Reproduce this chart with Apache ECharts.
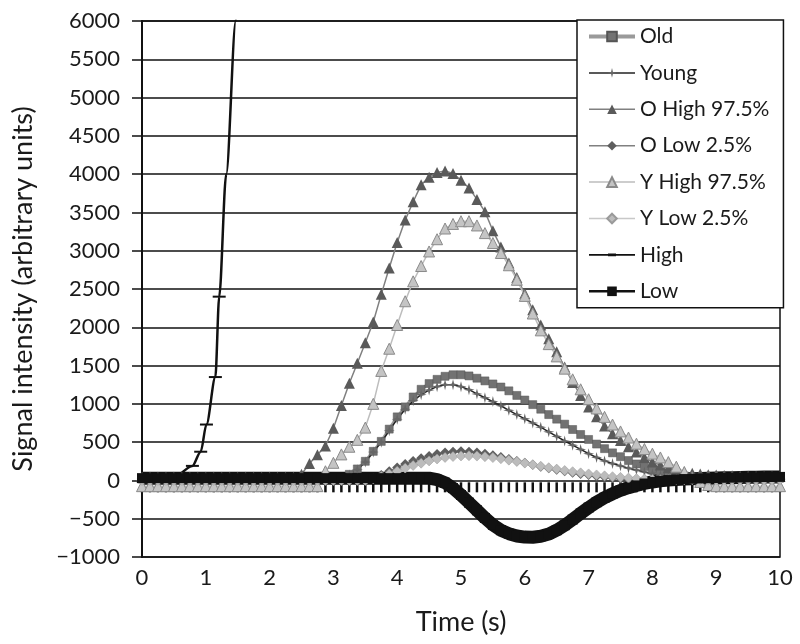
<!DOCTYPE html>
<html>
<head>
<meta charset="utf-8">
<script src="https://cdn.jsdelivr.net/npm/echarts@6/dist/echarts.min.js"></script>
<style>
  html, body { margin: 0; padding: 0; background: #fff; }
  #chart { width: 800px; height: 644px; }
</style>
</head>
<body>
<div id="chart"></div>
<script>
// sample times (s), every 0.125 s
const times = [
  0, 0.125, 0.25, 0.375, 0.5, 0.625, 0.75, 0.875,
  1, 1.125, 1.25, 1.375, 1.5, 1.625, 1.75, 1.875,
  2, 2.125, 2.25, 2.375, 2.5, 2.625, 2.75, 2.875,
  3, 3.125, 3.25, 3.375, 3.5, 3.625, 3.75, 3.875,
  4, 4.125, 4.25, 4.375, 4.5, 4.625, 4.75, 4.875,
  5, 5.125, 5.25, 5.375, 5.5, 5.625, 5.75, 5.875,
  6, 6.125, 6.25, 6.375, 6.5, 6.625, 6.75, 6.875,
  7, 7.125, 7.25, 7.375, 7.5, 7.625, 7.75, 7.875,
  8, 8.125, 8.25, 8.375, 8.5, 8.625, 8.75, 8.875,
  9, 9.125, 9.25, 9.375, 9.5, 9.625, 9.75, 9.875,
  10
];

const oldValues = [
  20, 20, 20, 20, 20, 20, 20, 20,
  20, 20, 20, 20, 20, 20, 20, 20,
  20, 20, 20, 20, 20, 20, 20, 20,
  20, 20, 80, 150, 250, 380, 510, 670,
  830, 960, 1090, 1190, 1265, 1320, 1360, 1380,
  1380, 1365, 1335, 1300, 1260, 1220, 1170, 1110,
  1050, 990, 930, 860, 800, 735, 665, 600,
  535, 475, 415, 360, 310, 260, 215, 180,
  145, 115, 90, 70, 55, 40, 35, 30,
  30, 30, 30, 30, 30, 30, 30, 30,
  30
];

const youngValues = [
  20, 20, 20, 20, 20, 20, 20, 20,
  20, 20, 20, 20, 20, 20, 20, 20,
  20, 20, 20, 20, 20, 20, 20, 20,
  20, 20, 70, 140, 240, 370, 500, 650,
  800, 930, 1040, 1120, 1180, 1225, 1250, 1250,
  1225, 1185, 1130, 1080, 1030, 975, 915, 860,
  805, 750, 695, 635, 575, 515, 460, 405,
  350, 300, 255, 220, 190, 160, 135, 110,
  85, 65, 50, 40, 35, 30, 30, 30,
  30, 30, 30, 30, 30, 30, 30, 30,
  30
];

const oHighValues = [
  40, 40, 40, 40, 40, 40, 40, 40,
  40, 40, 40, 40, 40, 40, 40, 40,
  40, 40, 40, 40, 80, 220, 335, 450,
  680, 980, 1270, 1530, 1797, 2070, 2430, 2775,
  3106, 3400, 3640, 3860, 3960, 4020, 4040, 4010,
  3920, 3820, 3670, 3510, 3260, 3050, 2840, 2650,
  2440, 2230, 2030, 1850, 1680, 1480, 1280, 1110,
  960, 830, 710, 610, 520, 440, 370, 300,
  240, 200, 165, 135, 110, 95, 85, 75,
  70, 65, 60, 55, 55, 50, 50, 50,
  50
];

const oLowValues = [
  0, 0, 0, 0, 0, 0, 0, 0,
  0, 0, 0, 0, 0, 0, 0, 0,
  0, 0, 0, 0, 0, 0, 0, 0,
  0, 0, 0, 0, 0, 30, 70, 120,
  170, 215, 255, 290, 320, 345, 365, 375,
  380, 375, 365, 350, 330, 305, 280, 255,
  230, 205, 180, 160, 140, 120, 100, 85,
  70, 55, 45, 35, 25, 20, 10, 10,
  10, 10, 10, 10, 10, 10, 10, 10,
  10, 10, 10, 10, 10, 10, 10, 10,
  10
];

const yHighValues = [
  -75, -75, -75, -75, -75, -75, -75, -75,
  -75, -75, -75, -75, -75, -75, -75, -75,
  -75, -75, -75, -75, -75, -75, -75, 120,
  230, 340, 440, 530, 690, 1000, 1430, 1720,
  2030, 2340, 2600, 2800, 2990, 3150, 3290, 3350,
  3385, 3385, 3330, 3230, 3100, 2970, 2810, 2620,
  2410, 2180, 1960, 1780, 1620, 1460, 1320, 1190,
  1060, 940, 830, 730, 640, 560, 480, 410,
  350, 300, 240, 180, 110, 40, -20, -60,
  -75, -75, -75, -75, -75, -75, -75, -75,
  -75
];

const yLowValues = [
  0, 0, 0, 0, 0, 0, 0, 0,
  0, 0, 0, 0, 0, 0, 0, 0,
  0, 0, 0, 0, 0, 0, 0, 0,
  0, 0, 0, 0, 0, 20, 50, 85,
  120, 160, 195, 225, 255, 280, 300, 312,
  320, 322, 318, 310, 298, 283, 265, 246,
  226, 206, 186, 167, 148, 130, 114, 99,
  85, 72, 60, 49, 40, 31, 24, 18,
  13, 10, 10, 10, 10, 10, 10, 10,
  10, 10, 10, 10, 10, 10, 10, 10,
  10
];

const lowValues = [
  30, 30, 30, 30, 30, 30, 30, 30,
  30, 30, 30, 30, 30, 30, 30, 30,
  30, 30, 30, 30, 30, 30, 30, 30,
  30, 30, 30, 30, 30, 30, 30, 30,
  30, 30, 30, 30, 30, 10, -30, -100,
  -190, -290, -390, -490, -580, -650, -695, -725,
  -740, -742, -730, -700, -650, -585, -510, -430,
  -355, -285, -225, -175, -130, -95, -65, -40,
  -20, -5, 5, 12, 18, 22, 26, 29,
  32, 34, 36, 38, 40, 42, 44, 45,
  46
];

// small black tick marks sitting just under zero
const baseTickValues = [
  -90, -90, -90, -90, -90, -90, -90, -90,
  -90, -90, -90, -90, -90, -90, -90, -90,
  -90, -90, -90, -90, -90, -90, -90, -90,
  -90, -90, -90, -90, -90, -90, -90, -90,
  -90, -90, -90, -90, -90, -90, -90, -90,
  -90, -90, -90, -90, -90, -90, -90, -90,
  -90, -90, -90, -90, -90, -90, -90, -90,
  -90, -90, -90, -90, -90, -90, -90, -90,
  -90, -90, -90, -90, -90, -90, -90, -90,
  -90, -90, -90, -90, -90, -90, -90, -90,
  -90
];

// the "High" curve has its own sample times
const highTimes = [0, 0.5, 0.79, 0.92, 1.01, 1.15, 1.21, 1.32, 1.47, 1.6];
const highValues = [0, 40, 190, 375, 730, 1350, 2400, 4000, 6000, 8200];

const legendNames = ['Old', 'Young', 'O High 97.5%', 'O Low 2.5%', 'Y High 97.5%', 'Y Low 2.5%', 'High', 'Low'];

const zip = (xs, ys) => xs.map((x, i) => [x, ys[i]]);

const chart = echarts.init(document.getElementById('chart'), null, { renderer: 'canvas' });

const textColor = '#1a1a1a';
const starPath = 'path://M5,0 L6,4 L10,5 L6,6 L5,10 L4,6 L0,5 L4,4 Z';
// legend icon for High: thin line with a short dash on it
const highIcon = 'path://M0,5.2 L46,5.2 L46,6.8 L0,6.8 Z M19,4.6 L27,4.6 L27,7.4 L19,7.4 Z';

const option = {
  animation: false,
  backgroundColor: '#fff',
  textStyle: { fontFamily: 'Lato' },
  grid: {
    left: 142, right: 20, top: 21, bottom: 87,
    outerBoundsMode: 'none',
    show: true, borderColor: '#111', borderWidth: 1.5, backgroundColor: '#fff',
  },
  legend: {
    orient: 'vertical',
    left: 577,
    top: 20,
    data: legendNames.map(n => {
      if (n === 'High') return { name: n, icon: highIcon, itemStyle: { color: '#111' } };
      if (n === 'Low') return { name: n, lineStyle: { width: 2.5 } };
      if (n === 'Old') return { name: n, lineStyle: { width: 4 } };
      return { name: n, lineStyle: { width: 1.5 } };
    }),
    itemWidth: 46,
    itemHeight: 12,
    itemGap: 15.4,
    padding: [6, 14, 6, 10],
    backgroundColor: '#fff',
    borderColor: '#111',
    borderWidth: 1.5,
    borderRadius: 0,
    textStyle: { fontSize: 21, color: textColor },
    z: 20,
  },
  xAxis: {
    type: 'value',
    min: 0,
    max: 10,
    interval: 1,
    axisLine: { show: false },
    axisTick: { show: false },
    splitLine: { show: false },
    axisLabel: { fontSize: 22, color: textColor, margin: 10 },
    name: 'Time (s)',
    nameLocation: 'middle',
    nameGap: 52,
    nameTextStyle: { fontSize: 27, color: textColor },
  },
  yAxis: {
    type: 'value',
    min: -1000,
    max: 6000,
    interval: 500,
    axisLine: { show: true, lineStyle: { color: '#111', width: 2 } },
    axisTick: { show: true, length: 10, lineStyle: { color: '#111', width: 1.5 } },
    splitLine: { show: true, lineStyle: { color: '#111', width: 1.5 } },
    axisLabel: {
      fontSize: 22,
      color: textColor,
      margin: 22,
      formatter: v => (v < 0 ? '\u2212' + Math.abs(v) : String(v)),
    },
    name: 'Signal intensity (arbitrary units)',
    nameLocation: 'middle',
    nameGap: 105,
    nameTextStyle: { fontSize: 27, color: textColor },
  },
  series: [
    {
      name: 'ticks',
      type: 'line',
      data: zip(times, baseTickValues),
      lineStyle: { width: 0, opacity: 0 },
      symbol: 'rect',
      symbolSize: [2.5, 10],
      itemStyle: { color: '#111' },
      silent: true,
    },
    {
      name: 'Old',
      type: 'line',
      data: zip(times, oldValues),
      lineStyle: { color: '#9a9a9a', width: 3 },
      symbol: 'rect',
      symbolSize: 8,
      itemStyle: { color: '#727272', borderColor: '#555', borderWidth: 0.5 },
    },
    {
      name: 'Young',
      type: 'line',
      data: zip(times, youngValues),
      lineStyle: { color: '#222', width: 1.5 },
      symbol: starPath,
      symbolSize: 11,
      itemStyle: { color: '#666' },
    },
    {
      name: 'O High 97.5%',
      type: 'line',
      data: zip(times, oHighValues),
      lineStyle: { color: '#808080', width: 1.5 },
      symbol: 'triangle',
      symbolSize: 11,
      itemStyle: { color: '#5a5a5a' },
    },
    {
      name: 'O Low 2.5%',
      type: 'line',
      data: zip(times, oLowValues),
      lineStyle: { color: '#808080', width: 1.5 },
      symbol: 'diamond',
      symbolSize: 10,
      itemStyle: { color: '#5e5e5e' },
    },
    {
      name: 'Y High 97.5%',
      type: 'line',
      data: zip(times, yHighValues),
      lineStyle: { color: '#bdbdbd', width: 1.5 },
      symbol: 'triangle',
      symbolSize: 11,
      itemStyle: { color: '#c4c4c4', borderColor: '#8a8a8a', borderWidth: 1 },
    },
    {
      name: 'Y Low 2.5%',
      type: 'line',
      data: zip(times, yLowValues),
      lineStyle: { color: '#c8c8c8', width: 1.5 },
      symbol: 'diamond',
      symbolSize: 10,
      itemStyle: { color: '#bcbcbc', borderColor: '#9a9a9a', borderWidth: 0.5 },
    },
    {
      name: 'High',
      type: 'line',
      data: zip(highTimes, highValues),
      smooth: 0.3,
      smoothMonotone: 'x',
      lineStyle: { color: '#111', width: 2.5 },
      symbol: 'rect',
      symbolSize: v => (v[1] > 3000 || v[1] < 100 ? 0 : [13, 2]),
      itemStyle: { color: '#111' },
    },
    {
      name: 'Low',
      type: 'line',
      data: zip(times, lowValues),
      lineStyle: { color: '#111', width: 13 },
      symbol: 'rect',
      symbolSize: 10,
      itemStyle: { color: '#111' },
    },
  ],
};

chart.setOption(option);
</script>
</body>
</html>
